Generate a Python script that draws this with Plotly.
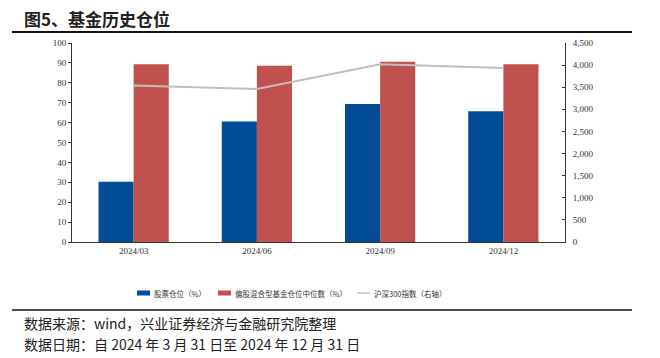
import plotly.graph_objects as go

categories = ["2024/03", "2024/06", "2024/09", "2024/12"]
stock_pos = [30.3, 60.6, 69.4, 65.7]
mixed_median = [89.3, 88.6, 90.6, 89.3]
hs300 = [3537, 3462, 4017, 3935]
y_ticks = list(range(0, 101, 10))
y2_ticks = list(range(0, 4501, 500))
legend_names = ["股票仓位（%）", "偏股混合型基金仓位中位数（%）", "沪深300指数（右轴）"]
colors = ["#004c97", "#c0504d", "#bfbfbf"]

W, H = 660, 358
L, R, T, B = 72, 95, 43, 116

fig = go.Figure()
fig.add_trace(go.Bar(x=categories, y=stock_pos, name=legend_names[0], showlegend=False,
                     marker=dict(color=colors[0], line=dict(width=0))))
fig.add_trace(go.Bar(x=categories, y=mixed_median, name=legend_names[1], showlegend=False,
                     marker=dict(color=colors[1], line=dict(width=0))))
fig.add_trace(go.Scatter(x=categories, y=hs300, name=legend_names[2], yaxis="y2", showlegend=False,
                         mode="lines", line=dict(color=colors[2], width=2)))

tickfont = dict(family="Liberation Serif", size=9, color="#333333")
fig.update_layout(
    width=W, height=H,
    margin=dict(l=L, r=R, t=T, b=B, autoexpand=False),
    paper_bgcolor="white", plot_bgcolor="white",
    barmode="group", bargap=0.43, bargroupgap=0,
    xaxis=dict(showline=True, linecolor="#333333", linewidth=1, ticks="",
               tickfont=tickfont, showgrid=False),
    yaxis=dict(range=[0, 100], tickvals=y_ticks, showline=True, linecolor="#333333",
               linewidth=1, ticks="outside", ticklen=3, tickcolor="#333333",
               tickfont=tickfont, showgrid=False, zeroline=False),
    yaxis2=dict(range=[0, 4500], tickvals=y2_ticks, overlaying="y", side="right",
                showline=True, linecolor="#333333", linewidth=1, ticks="inside",
                ticklen=3, tickcolor="#333333", tickformat=",", tickfont=tickfont,
                ticklabelstandoff=5, showgrid=False, zeroline=False),
)

pw = W - L - R
ph = H - T - B
def px_x(x):
    return (x - L) / pw
def px_y(y):
    return (H - B - y) / ph

# custom legend
leg_y = 293
legfont = dict(family="Noto Sans CJK SC", size=7.5, color="#333333")
swatch_x = [137, 218, 357]
for i, sx in enumerate(swatch_x):
    if i < 2:
        fig.add_shape(type="rect", xref="paper", yref="paper",
                      x0=px_x(sx), x1=px_x(sx + 13), y0=px_y(leg_y + 2.5), y1=px_y(leg_y - 2.5),
                      fillcolor=colors[i], line=dict(width=0))
    else:
        fig.add_shape(type="line", xref="paper", yref="paper",
                      x0=px_x(sx), x1=px_x(sx + 13), y0=px_y(leg_y), y1=px_y(leg_y),
                      line=dict(color=colors[i], width=1.5))
    fig.add_annotation(text=legend_names[i], xref="paper", yref="paper",
                       x=px_x(sx + 15), y=px_y(leg_y), xanchor="left", yanchor="middle",
                       showarrow=False, font=legfont)

fig.add_annotation(text="<b>图5、基金历史仓位</b>", xref="paper", yref="paper",
                   x=px_x(22), y=px_y(18), xanchor="left", yanchor="middle",
                   showarrow=False,
                   font=dict(family="Noto Sans CJK SC", size=17, color="#222222"))
fig.add_annotation(text="数据来源：wind，兴业证券经济与金融研究院整理", xref="paper", yref="paper",
                   x=px_x(22), y=px_y(323), xanchor="left", yanchor="middle",
                   showarrow=False, font=dict(family="Noto Sans CJK SC", size=14, color="#222222"))
fig.add_annotation(text="数据日期：自 2024 年 3 月 31 日至 2024 年 12 月 31 日", xref="paper", yref="paper",
                   x=px_x(22), y=px_y(344), xanchor="left", yanchor="middle",
                   showarrow=False, font=dict(family="Noto Sans CJK SC", size=14, color="#222222"))

fig.add_shape(type="line", xref="paper", yref="paper", x0=px_x(12), x1=px_x(632),
              y0=px_y(32), y1=px_y(32), line=dict(color="#111111", width=2))
fig.add_shape(type="line", xref="paper", yref="paper", x0=px_x(12), x1=px_x(632),
              y0=px_y(310), y1=px_y(310), line=dict(color="#111111", width=1.5))

fig.write_html("out.html", config={"displayModeBar": False},
               post_script="document.body.style.margin='0';")
